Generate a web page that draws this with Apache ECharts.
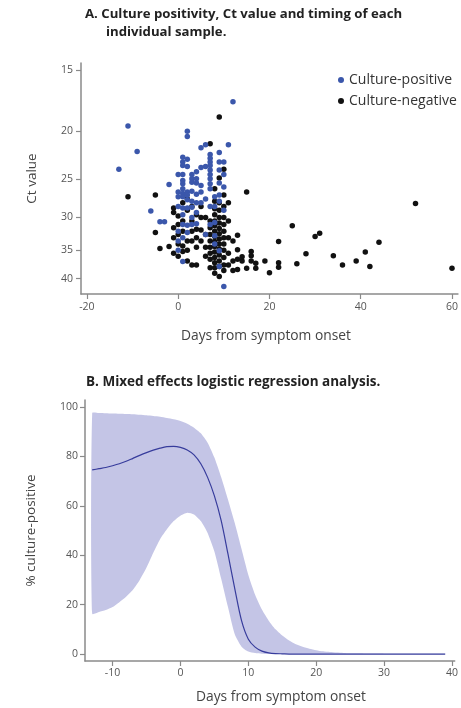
<!DOCTYPE html>
<html>
<head>
<meta charset="utf-8">
<script src="https://cdn.jsdelivr.net/npm/echarts@6/dist/echarts.min.js"></script>
<style>
  html, body { margin: 0; padding: 0; background: #fff; }
  #chart { width: 461px; height: 708px; }
</style>
</head>
<body>
<div id="chart"></div>
<script>
// panel A: [days from onset, Ct value]
const positive = [
  [-13, 23.9], [-11, 19.5], [-9, 22.0], [-6, 29.1], [-4, 30.6], [-3, 30.6], [-2, 25.7],
  [0, 24.5], [0, 26.6], [0, 27.2], [0, 28.5], [0, 32.0], [0, 33.5], [0, 35.0],
  [1, 22.6], [1, 23.1], [1, 23.5], [1, 24.5], [1, 25.2], [1, 25.6], [1, 26.2], [1, 26.8], [1, 27.2], [1, 28.7], [1, 29.6], [1, 31.0], [1, 33.0], [1, 36.9],
  [2, 20.0], [2, 20.5], [2, 22.8], [2, 23.6], [2, 26.6], [2, 27.0], [2, 27.6], [2, 28.7], [2, 31.1], [2, 32.2],
  [3, 24.5], [3, 25.0], [3, 25.4], [3, 26.5], [3, 27.8], [3, 28.6], [3, 30.0], [3, 31.0],
  [4, 24.2], [4, 25.0], [4, 25.5], [4, 26.9], [4, 28.0], [4, 29.3], [4, 30.9],
  [5, 21.6], [5, 23.7], [5, 25.8], [5, 26.6], [5, 28.0],
  [6, 21.3], [6, 23.6], [6, 27.5], [6, 32.5],
  [7, 22.3], [7, 22.7], [7, 23.1], [7, 23.5], [7, 24.0], [7, 24.5], [7, 25.0], [7, 25.6], [7, 26.2], [7, 28.5], [7, 31.0],
  [8, 27.2], [8, 28.5], [8, 30.7], [8, 32.7], [8, 34.0],
  [9, 22.1], [9, 23.1], [9, 24.0], [9, 25.5], [9, 27.0], [9, 27.8], [9, 35.1], [9, 37.8],
  [10, 23.1], [10, 24.5], [10, 26.0], [10, 29.0], [10, 41.5],
  [11, 21.3], [12, 17.4]
]
const negative = [
  [-11, 27.2], [-5, 27.0], [-5, 32.2], [-4, 34.7], [-2, 34.4],
  [-1, 28.7], [-1, 29.3], [-1, 31.5], [-1, 33.0], [-1, 35.5],
  [0, 29.8], [0, 31.0], [0, 32.5], [0, 34.0], [0, 36.0],
  [1, 28.0], [1, 30.5], [1, 32.0], [1, 34.3], [1, 35.2],
  [2, 27.5], [2, 29.0], [2, 33.5], [2, 35.0], [2, 36.8],
  [3, 28.5], [3, 30.5], [3, 32.0], [3, 33.5], [3, 37.5],
  [4, 29.6], [4, 31.7], [4, 33.0], [4, 34.5], [4, 37.5],
  [5, 28.5], [5, 30.0], [5, 31.8], [5, 33.5],
  [6, 30.0], [6, 32.5], [6, 34.5], [6, 36.0],
  [7, 21.2], [7, 30.5], [7, 31.5], [7, 32.5], [7, 33.5], [7, 34.5], [7, 35.5], [7, 36.5], [7, 38.0],
  [8, 26.2], [8, 27.8], [8, 28.8], [8, 29.6], [8, 30.5], [8, 31.2], [8, 32.0], [8, 32.8], [8, 33.6], [8, 34.4], [8, 35.3], [8, 36.2], [8, 37.1], [8, 38.0], [8, 39.0],
  [9, 18.7], [9, 24.9], [9, 28.0], [9, 29.0], [9, 30.0], [9, 30.8], [9, 31.6], [9, 32.4], [9, 33.2], [9, 34.0], [9, 34.8], [9, 35.8], [9, 36.8], [9, 37.8], [9, 39.6],
  [10, 23.9], [10, 27.0], [10, 28.5], [10, 30.0], [10, 31.0], [10, 32.0], [10, 33.0], [10, 34.0], [10, 35.0], [10, 36.2], [10, 37.5], [10, 38.5],
  [11, 28.0], [11, 30.5], [11, 33.0], [11, 35.5], [11, 37.5],
  [12, 33.5], [12, 36.8], [12, 38.5],
  [13, 32.6], [13, 34.9], [13, 36.5], [13, 38.3],
  [14, 36.1], [14, 36.8], [15, 26.6], [15, 38.1],
  [16, 35.2], [16, 35.9], [16, 36.8], [17, 37.2], [17, 38.1],
  [19, 36.8], [20, 38.9], [22, 33.6], [22, 37.1], [22, 37.9], [25, 31.2], [26, 37.3], [28, 35.6],
  [30, 32.8], [31, 32.3], [34, 35.9], [36, 37.5], [39, 36.8], [41, 35.3], [42, 37.8], [44, 33.7],
  [52, 28.1], [60, 38.1]
]
const ctTicks = [15, 20, 25, 30, 35, 40]
const dayTicksA = [-20, 0, 20, 40, 60]

// panel B: modelled % culture-positive with 95% band
const days = [-13, -12, -11, -10, -9, -8, -7, -6, -5, -4, -3, -2, -1, 0, 1, 2, 3, 4, 5, 6, 7, 8, 9, 10,
  11, 12, 13, 14, 15, 16, 17, 18, 19, 20, 21, 22, 23, 24, 25, 26, 27, 28, 29, 30, 31, 32, 33, 34, 35, 36, 37, 38, 39]
const fit = [74.5, 75, 75.5, 76.2, 77, 78, 79.2, 80.4, 81.5, 82.5, 83.3, 83.9, 84, 83.6, 82.6, 80.6, 77, 71.5, 64, 54, 40.5, 26.5, 13.5, 6,
  2.8, 1.2, 0.5, 0.2, 0.1, 0, 0, 0, 0, 0, 0, 0, 0, 0, 0, 0, 0, 0, 0, 0, 0, 0, 0, 0, 0, 0, 0, 0, 0]
const upper = [97.5, 97.5, 97.4, 97.3, 97.2, 97.1, 97, 96.8, 96.6, 96.3, 96, 95.5, 95, 94.3, 93.2, 91.6, 89.3, 85.5, 79.5, 71.5, 62.5, 53, 42.5, 32,
  24, 18, 13.5, 10, 7.5, 5.5, 4, 3, 2.2, 1.6, 1.1, 0.8, 0.6, 0.45, 0.35, 0.3, 0.25, 0.2, 0.2, 0.15, 0.1, 0.1, 0.1, 0.1, 0.1, 0.1, 0.1, 0.1, 0.1]
const lower = [16.3, 17, 17.8, 19, 21, 23.2, 26, 30, 35, 41, 46.5, 50.5, 53.8, 56, 57.2, 56.5, 53.8, 49, 41.5, 30.5, 19, 8, 3, 1,
  0.4, 0.1, 0, 0, 0, 0, 0, 0, 0, 0, 0, 0, 0, 0, 0, 0, 0, 0, 0, 0, 0, 0, 0, 0, 0, 0, 0, 0, 0]
const pctTicks = [0, 20, 40, 60, 80, 100]
const dayTicksB = [-10, 0, 10, 20, 30, 40]

const font = 'Open Sans'
const axisGrey = '#8a8a8a'
const labelGrey = '#555'

function axisBits(ticks, margin) {
  return {
    axisLine: { show: true, onZero: false, lineStyle: { color: axisGrey, width: 1.5 } },
    axisTick: { show: true, length: 5, customValues: ticks, lineStyle: { color: axisGrey, width: 1.2 } },
    axisLabel: { customValues: ticks, color: labelGrey, fontFamily: font, fontSize: 10.5, margin: margin },
    splitLine: { show: false }
  }
}

// whole confidence band as one polygon: upper edge forward, lower edge back
function renderBand(params, api) {
  if (params.dataIndex !== 0) return null
  const pts = []
  days.forEach((d, i) => pts.push(api.coord([d, upper[i]])))
  for (let i = days.length - 1; i >= 0; i--) pts.push(api.coord([days[i], lower[i]]))
  return {
    type: 'polygon',
    shape: { points: pts, smooth: 0.2 },
    style: { fill: '#c4c5e6' }
  }
}

const chart = echarts.init(document.getElementById('chart'))
chart.setOption({
  animation: false,
  textStyle: { fontFamily: font },
  graphic: [
    { type: 'text', left: 85, top: 8, style: { text: 'A. Culture positivity, Ct value and timing of each', font: 'bold 13.2px "Open Sans"', fill: '#222' } },
    { type: 'text', left: 106, top: 26, style: { text: 'individual sample.', font: 'bold 13.2px "Open Sans"', fill: '#222' } },
    { type: 'text', left: 86, top: 375, style: { text: 'B. Mixed effects logistic regression analysis.', font: 'bold 13.5px "Open Sans"', fill: '#222' } },
    { type: 'text', x: 266, y: 336, style: { text: 'Days from symptom onset', font: '13.8px "Open Sans"', fill: '#444', align: 'center', verticalAlign: 'middle' } },
    { type: 'text', x: 281, y: 697, style: { text: 'Days from symptom onset', font: '13.8px "Open Sans"', fill: '#444', align: 'center', verticalAlign: 'middle' } }
  ],
  legend: {
    data: ['Culture-positive', 'Culture-negative'],
    orient: 'vertical',
    left: 333,
    top: 68,
    itemWidth: 6,
    itemHeight: 6,
    itemGap: 7,
    icon: 'circle',
    textStyle: { fontFamily: font, fontSize: 14, color: '#333' }
  },
  grid: [
    { left: 81, top: 63, right: 1, height: 231 },
    { left: 85, top: 400, right: 0, height: 261 }
  ],
  xAxis: [
    Object.assign({ type: 'value', gridIndex: 0, min: -21.3, max: 61.3 }, axisBits(dayTicksA, 8)),
    Object.assign({ type: 'value', gridIndex: 1, min: -14.06, max: 40.4 }, axisBits(dayTicksB, 7))
  ],
  yAxis: [
    Object.assign({
      type: 'log', logBase: 10, gridIndex: 0, min: 14.5, max: 43, inverse: true,
      name: 'Ct value', nameLocation: 'middle', nameGap: 42,
      nameTextStyle: { fontFamily: font, fontSize: 13.5, color: '#444' }
    }, axisBits(ctTicks, 8)),
    Object.assign({
      type: 'value', gridIndex: 1, min: -2.8, max: 102.8,
      name: '% culture-positive', nameLocation: 'middle', nameGap: 47,
      nameTextStyle: { fontFamily: font, fontSize: 13.5, color: '#444' }
    }, axisBits(pctTicks, 7))
  ],
  series: [
    {
      name: 'Culture-negative', type: 'scatter', xAxisIndex: 0, yAxisIndex: 0,
      data: negative, symbolSize: 5.5, itemStyle: { color: '#111', opacity: 1 }
    },
    {
      name: 'Culture-positive', type: 'scatter', xAxisIndex: 0, yAxisIndex: 0,
      data: positive, symbolSize: 5.5, itemStyle: { color: '#3b57ab', opacity: 1 }
    },
    {
      name: 'band', type: 'custom', xAxisIndex: 1, yAxisIndex: 1,
      data: days.map((d, i) => [d, lower[i], upper[i]]),
      renderItem: renderBand,
      encode: { x: 0, y: [1, 2] },
      clip: true
    },
    {
      name: 'fit', type: 'line', xAxisIndex: 1, yAxisIndex: 1,
      data: days.map((d, i) => [d, fit[i]]),
      symbol: 'none', smooth: 0.3,
      lineStyle: { color: '#373c9c', width: 1.2 }
    }
  ]
})
</script>
</body>
</html>
